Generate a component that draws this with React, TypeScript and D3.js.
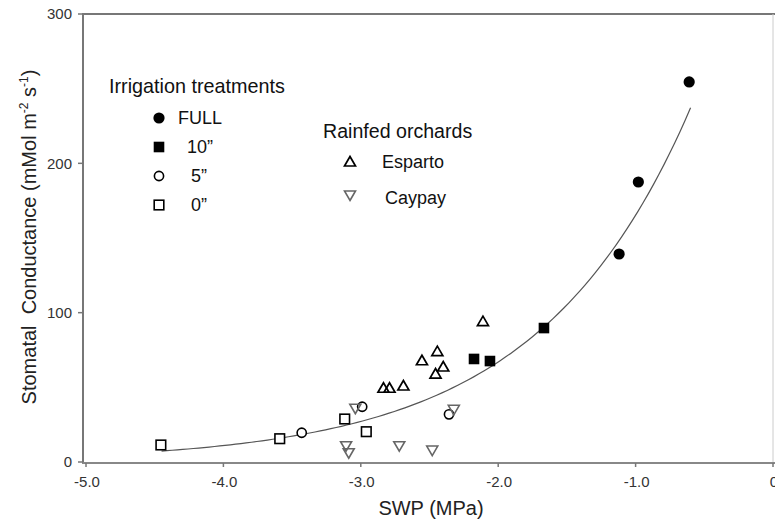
import React from "react";
import * as d3 from "d3";

const W = 775;
const H = 523;

// Data: [SWP (MPa), Stomatal conductance]
const fullX = [-0.61, -0.98, -1.12];
const fullY = [254.5, 187.5, 139.3];
const tenX = [-1.667, -2.176, -2.06];
const tenY = [89.7, 69.0, 67.6];
const fiveX = [-3.43, -2.99, -2.358];
const fiveY = [19.6, 37.0, 31.9];
const zeroX = [-4.455, -3.59, -3.117, -2.96];
const zeroY = [11.4, 15.6, 28.8, 20.3];
const espartoX = [-2.835, -2.791, -2.69, -2.555, -2.443, -2.4, -2.456, -2.111];
const espartoY = [49.4, 49.4, 50.9, 67.8, 73.9, 63.6, 58.9, 94.0];
const caypayX = [-3.04, -2.323, -3.107, -3.088, -2.72, -2.48];
const caypayY = [36.0, 35.3, 10.9, 6.2, 10.9, 8.0];

// Exponential regression line y = A * exp(B * x)
const FIT_A = 407.7;
const FIT_B = 0.903;
const FIT_RANGE = [-4.45, -0.6];

const xTicks = [-5, -4, -3, -2, -1, 0];
const xTickLabels = ["-5.0", "-4.0", "-3.0", "-2.0", "-1.0", "0"];
const yTicks = [0, 100, 200, 300];

const FONT = "'Liberation Sans', Arial, sans-serif";

function Marker({ kind, cx, cy }: { kind: string; cx: number; cy: number }) {
  if (kind === "full") return <circle cx={cx} cy={cy} r={5.6} fill="#000" />;
  if (kind === "ten") return <rect x={cx - 5.3} y={cy - 5.3} width={10.6} height={10.6} fill="#000" />;
  if (kind === "five")
    return <circle cx={cx} cy={cy} r={4.6} fill="#fff" stroke="#000" strokeWidth={1.6} />;
  if (kind === "zero")
    return <rect x={cx - 4.8} y={cy - 4.8} width={9.6} height={9.6} fill="#fff" stroke="#000" strokeWidth={1.6} />;
  if (kind === "esparto")
    return (
      <path
        d={`M${cx},${cy - 5.5}L${cx + 5.5},${cy + 4}L${cx - 5.5},${cy + 4}Z`}
        fill="none"
        stroke="#000"
        strokeWidth={1.7}
      />
    );
  // caypay
  return (
    <path
      d={`M${cx},${cy + 5.5}L${cx + 5.5},${cy - 4}L${cx - 5.5},${cy - 4}Z`}
      fill="none"
      stroke="#666"
      strokeWidth={1.6}
    />
  );
}

export default function App() {
  const x = d3.scaleLinear().domain([-5, 0]).range([86, 773]);
  const y = d3.scaleLinear().domain([0, 300]).range([462, 14]);

  const axisX = 83;
  const axisY = 463;

  const fitPts = d3.range(0, 101).map((i) => {
    const v = FIT_RANGE[0] + ((FIT_RANGE[1] - FIT_RANGE[0]) * i) / 100;
    return [v, FIT_A * Math.exp(FIT_B * v)] as [number, number];
  });
  const line = d3
    .line<[number, number]>()
    .x((d) => x(d[0]))
    .y((d) => y(d[1]))
    .curve(d3.curveLinear);

  const series: { kind: string; xs: number[]; ys: number[] }[] = [
    { kind: "zero", xs: zeroX, ys: zeroY },
    { kind: "five", xs: fiveX, ys: fiveY },
    { kind: "caypay", xs: caypayX, ys: caypayY },
    { kind: "esparto", xs: espartoX, ys: espartoY },
    { kind: "ten", xs: tenX, ys: tenY },
    { kind: "full", xs: fullX, ys: fullY },
  ];

  const legendIrr = [
    { kind: "full", label: "FULL", tx: 178 },
    { kind: "ten", label: "10\u201D", tx: 187 },
    { kind: "five", label: "5\u201D", tx: 191 },
    { kind: "zero", label: "0\u201D", tx: 191 },
  ];

  return (
    <svg
      width={W}
      height={H}
      style={{ position: "absolute", left: 0, top: 0, background: "#fff" }}
      fontFamily={FONT}
    >
      <rect x={0} y={0} width={W} height={H} fill="#fff" />
      {/* frame */}
      <line x1={axisX} x2={W} y1={y(300)} y2={y(300)} stroke="#777" strokeWidth={2} />
      <line x1={x(0)} x2={x(0)} y1={y(300)} y2={axisY} stroke="#ccc" strokeWidth={1} />
      <line x1={axisX} x2={axisX} y1={y(300) - 1} y2={axisY} stroke="#777" strokeWidth={2} />
      <line x1={axisX - 1} x2={W} y1={axisY} y2={axisY} stroke="#888" strokeWidth={2} />

      {/* y ticks */}
      {yTicks.map((t) => (
        <g key={t}>
          <line x1={axisX - 5} x2={axisX} y1={y(t)} y2={y(t)} stroke="#777" strokeWidth={1.5} />
          <text
            x={axisX - 11}
            y={y(t)}
            dy="0.35em"
            textAnchor="end"
            fontSize={15}
            fill="#333"
          >
            {t}
          </text>
        </g>
      ))}
      {/* x ticks */}
      {xTicks.map((t, i) => (
        <g key={t}>
          <line x1={x(t)} x2={x(t)} y1={axisY} y2={axisY + 4} stroke="#777" strokeWidth={1.5} />
          <text x={x(t) + 1} y={axisY + 24} textAnchor="middle" fontSize={15} fill="#333">
            {xTickLabels[i]}
          </text>
        </g>
      ))}

      {/* axis titles */}
      <text x={431} y={515} textAnchor="middle" fontSize={20} fill="#222">
        SWP (MPa)
      </text>
      <text
        transform="translate(36,237) rotate(-90)"
        textAnchor="middle"
        fontSize={20}
        fill="#222"
        xmlSpace="preserve"
      >
        <tspan>Stomatal  Conductance (mMol m</tspan>
        <tspan fontSize={12} dy={-8}>-2</tspan>
        <tspan dy={8}> s</tspan>
        <tspan fontSize={12} dy={-8}>-1</tspan>
        <tspan dy={8}>)</tspan>
      </text>

      {/* fit line */}
      <path d={line(fitPts) || ""} fill="none" stroke="#555" strokeWidth={1.2} />

      {/* points */}
      {series.map((s) =>
        s.xs.map((v, i) => (
          <Marker key={s.kind + i} kind={s.kind} cx={x(v)} cy={y(s.ys[i])} />
        ))
      )}

      {/* legend: irrigation */}
      <text x={109} y={93} fontSize={19.8} fill="#111">
        Irrigation treatments
      </text>
      {legendIrr.map((l, i) => (
        <g key={l.label}>
          <Marker kind={l.kind} cx={159} cy={118 + i * 29} />
          <text x={l.tx} y={118 + i * 29} dy="0.35em" fontSize={18} fill="#111">
            {l.label}
          </text>
        </g>
      ))}

      {/* legend: rainfed */}
      <text x={323} y={138} fontSize={19.6} fill="#111">
        Rainfed orchards
      </text>
      <Marker kind="esparto" cx={350} cy={162} />
      <text x={382} y={162} dy="0.35em" fontSize={18} fill="#111">
        Esparto
      </text>
      <Marker kind="caypay" cx={350} cy={195} />
      <text x={385} y={198} dy="0.35em" fontSize={18} fill="#111">
        Caypay
      </text>
    </svg>
  );
}
